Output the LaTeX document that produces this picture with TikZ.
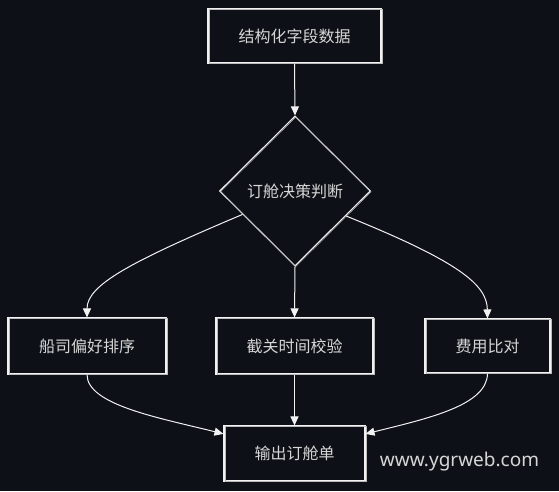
\documentclass[tikz,border=0pt]{standalone}
\usepackage{fontspec}
\newfontfamily\cjk{Noto Sans CJK SC}
\newfontfamily\wmfont{Noto Sans}
\usetikzlibrary{shapes.geometric,arrows.meta,calc}
\definecolor{bg}{HTML}{0D1117}
\definecolor{ln}{HTML}{F2F2F2}
\definecolor{tx}{HTML}{D6D6D6}
\begin{document}
\begin{tikzpicture}[x=1pt,y=-1pt,
  shp/.style={draw=ln, line width=1.1pt, fill=bg, inner sep=0pt, text=tx,
    font=\cjk\fontsize{16}{19}\selectfont,
    postaction={draw=ln!75!bg, line width=0.5pt, transform canvas={shift={(0.8pt,-0.7pt)}}}},
  box/.style={shp, rectangle},
  arr/.style={draw=ln, line width=1pt, -{Triangle[length=9pt,width=8pt]}}]
\fill[bg] (0,0) rectangle (559,491);
\useasboundingbox (0,0) rectangle (559,491);
\node[box, minimum width=173pt, minimum height=54pt] (top) at (294.5,36) {结构化字段数据};
\node[shp, diamond, aspect=1, minimum width=151pt, minimum height=150pt] (dec) at (295,191) {订舱决策判断};
\node[box, minimum width=158pt, minimum height=56pt] (left) at (87,346) {船司偏好排序};
\node[box, minimum width=157pt, minimum height=56pt] (mid) at (294.5,346) {截关时间校验};
\node[box, minimum width=125pt, minimum height=54pt] (right) at (487.5,346) {费用比对};
\node[box, minimum width=141pt, minimum height=55pt] (bot) at (294.5,453.5) {输出订舱单};
\node[text=tx, font=\wmfont\fontsize{19}{22}\selectfont, anchor=base, inner sep=0pt] (wm) at (459.5,466) {www.ygrweb.com};
\draw[arr] (top.south) -- (dec.north);
\draw[arr] ($(dec.west)!0.31!(dec.south)$) .. controls (130,262) and (87,285) .. (left.north);
\draw[arr] (dec.south) -- (mid.north);
\draw[arr] ($(dec.east)!0.33!(dec.south)$) .. controls (460,262) and (487,285) .. (right.north);
\draw[arr] (left.south) .. controls (87,405) and (160,418) .. ($(bot.north west)!0.15!(bot.south west)$);
\draw[arr] (mid.south) -- (bot.north);
\draw[arr] (right.south) .. controls (487,405) and (430,418) .. ($(bot.north east)!0.15!(bot.south east)$);
\end{tikzpicture}
\end{document}
